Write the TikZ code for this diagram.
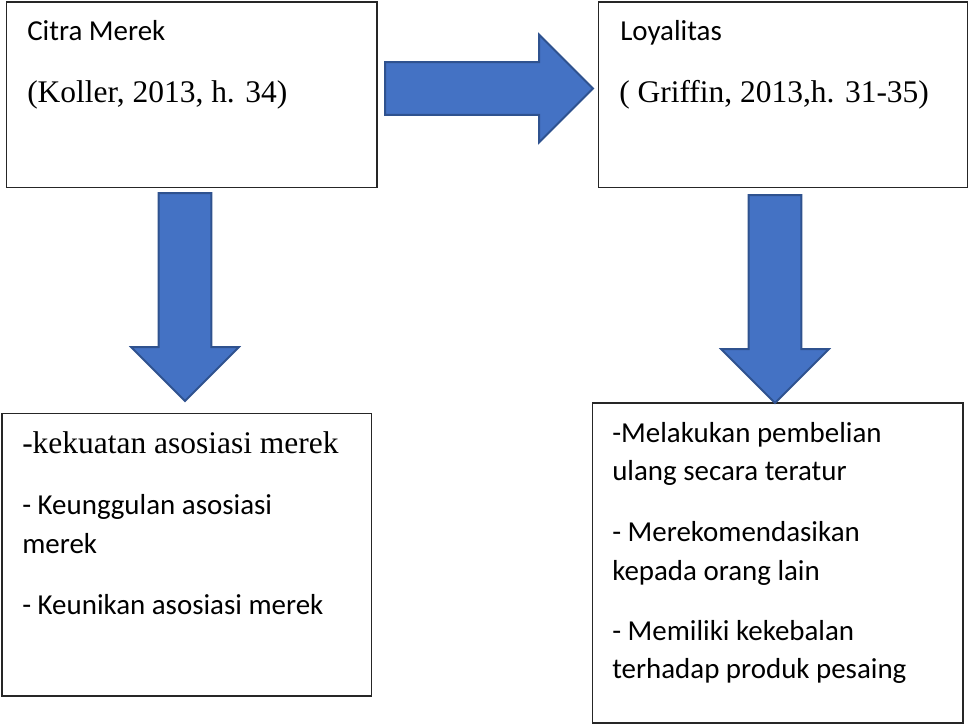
\documentclass[tikz,border=0pt]{standalone}
\usepackage{fontspec}
\setmainfont{Carlito}
\newfontfamily\timesfont{Liberation Serif}
\usetikzlibrary{shapes.arrows}
\definecolor{arrowfill}{HTML}{4472C4}
\definecolor{arrowedge}{HTML}{2F528F}

\begin{document}
\begin{tikzpicture}[x=0.75pt,y=-0.75pt,
				box/.style={rectangle,draw=black!85,line width=1pt,inner sep=0pt},
				lbl/.style={anchor=base west,inner sep=0pt,font=\fontsize{21.7}{26}\selectfont},
				cite/.style={anchor=base west,inner sep=0pt,font=\timesfont\fontsize{23.6}{28}\selectfont},
				blk/.style={single arrow,draw=arrowedge,fill=arrowfill,line width=1.5pt,anchor=tail,
					inner xsep=0pt,inner ysep=19pt,single arrow head extend=20.6pt,minimum height=156pt}
				]
				\useasboundingbox (0,0) rectangle (970,725);
				
				\node[box,minimum width=278pt,minimum height=139pt] (citra) at (191.5,94.5) {};
				\node[box,minimum width=277pt,minimum height=139pt] (loyal) at (783,94.5) {};
				\node[box,minimum width=277pt,minimum height=212pt] (indcitra) at (186.5,554.5) {};
				\node[box,minimum width=278pt,minimum height=240pt] (indloyal) at (777.5,563) {};
				
				\node[blk] (arrcl) at (384,88.5) {};
				\node[blk,rotate=-90] (arrc) at (185,192) {};
				\node[blk,rotate=-90] (arrl) at (775,194) {};
				
				\node[lbl] (tcitra) at (27,40) {Citra Merek};
				\node[cite] (rcitra) at (27,102) {(Koller, 2013, h. 34)};
				\node[lbl] (tloyal) at (620,40) {Loyalitas};
				\node[cite] (rloyal) at (619,102) {( Griffin, 2013,h. 31-35)};
				
				\node[cite] (c1) at (22,453) {-kekuatan asosiasi merek};
				\node[lbl] (c2a) at (22,514) {- Keunggulan asosiasi};
				\node[lbl] (c2b) at (22,553) {merek};
				\node[lbl] (c3) at (22,614) {- Keunikan asosiasi merek};
				
				\node[lbl] (l1a) at (612,442) {-Melakukan pembelian};
				\node[lbl] (l1b) at (612,480) {ulang secara teratur};
				\node[lbl] (l2a) at (612,541) {- Merekomendasikan};
				\node[lbl] (l2b) at (612,580) {kepada orang lain};
				\node[lbl] (l3a) at (612,640) {- Memiliki kekebalan};
				\node[lbl] (l3b) at (612,678) {terhadap produk pesaing};
			\end{tikzpicture}
\end{document}
